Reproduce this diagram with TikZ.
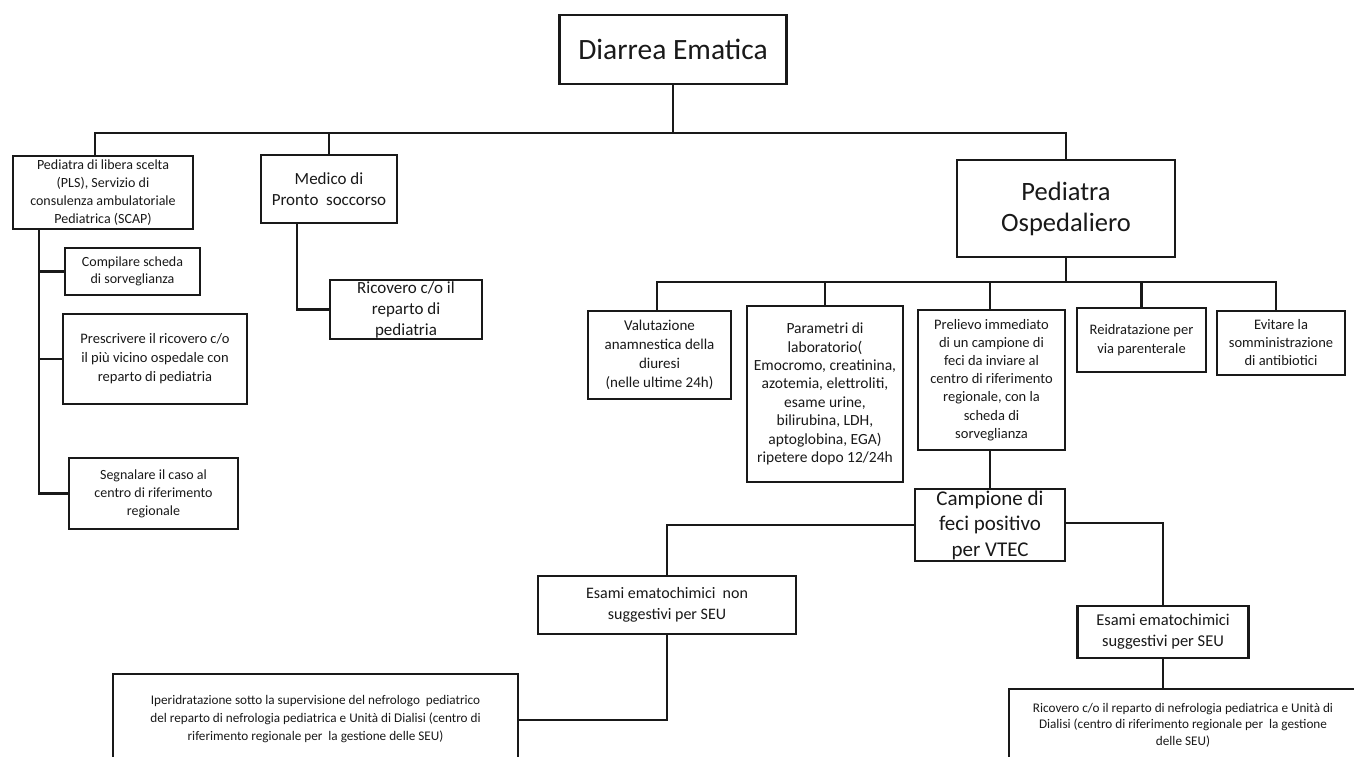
\documentclass[tikz,border=0pt]{standalone}
\usepackage{fontspec}
\setmainfont{Carlito}
\begin{document}
\begin{tikzpicture}[x=1pt,y=-1pt]
\tikzset{
  box/.style={draw=black!90, line width=2.6pt, inner sep=0pt, align=center, fill=white, text=black!90},
  conn/.style={draw=black!90, line width=2.6pt}
}
\useasboundingbox (0,0) rectangle (1354,757);

% level 0
\node[box, minimum width=227pt, minimum height=69pt, font=\fontsize{29.5}{35}\selectfont] (diarrea) at (673,49.5) {Diarrea Ematica};

% level 1
\node[box, minimum width=180pt, minimum height=73pt, font=\fontsize{14}{18}\selectfont] (pls) at (103,192.5)
  {Pediatra di libera scelta\\(PLS), Servizio di\\consulenza ambulatoriale\\Pediatrica (SCAP)};
\node[box, minimum width=136pt, minimum height=68pt, font=\fontsize{17}{21}\selectfont] (medico) at (329,189)
  {Medico di\\Pronto\ \ soccorso};
\node[box, minimum width=218pt, minimum height=97pt, font=\fontsize{26.5}{31}\selectfont] (pedosp) at (1066,208.5)
  {Pediatra\\Ospedaliero};

% PLS children
\node[box, minimum width=135pt, minimum height=47pt, font=\fontsize{14}{17.5}\selectfont] (compilare) at (132.5,271.5)
  {Compilare scheda\\di sorveglianza};
\node[box, minimum width=184pt, minimum height=90pt, font=\fontsize{14.5}{19}\selectfont] (prescrivere) at (155,359)
  {Prescrivere il ricovero c/o\\il più vicino ospedale con\\reparto di pediatria};
\node[box, minimum width=169pt, minimum height=71pt, font=\fontsize{14}{18}\selectfont] (segnalare) at (153.5,493.5)
  {Segnalare il caso al\\centro di riferimento\\regionale};

% Medico child
\node[box, minimum width=152pt, minimum height=59pt, font=\fontsize{17}{21}\selectfont] (ricovero1) at (406,309.5)
  {Ricovero c/o il\\reparto di\\pediatria};

% Pediatra Ospedaliero children
\node[box, minimum width=143pt, minimum height=88pt, font=\fontsize{15}{19}\selectfont] (valutazione) at (659.5,355)
  {Valutazione\\anamnestica della\\diuresi\\(nelle ultime 24h)};
\node[box, minimum width=156pt, minimum height=176pt, font=\fontsize{15.5}{18.4}\selectfont] (parametri) at (825,394)
  {Parametri di\\laboratorio(\\Emocromo, creatinina,\\azotemia, elettroliti,\\esame urine,\\bilirubina, LDH,\\aptoglobina, EGA)\\ripetere dopo 12/24h};
\node[box, minimum width=147pt, minimum height=140pt, font=\fontsize{14.5}{18.2}\selectfont] (prelievo) at (991.5,380)
  {Prelievo immediato\\di un campione di\\feci da inviare al\\centro di riferimento\\regionale, con la\\scheda di\\sorveglianza};
\node[box, minimum width=129pt, minimum height=64pt, font=\fontsize{14.5}{18.3}\selectfont] (reidratazione) at (1141.5,340)
  {Reidratazione per\\via parenterale};
\node[box, minimum width=128pt, minimum height=64pt, font=\fontsize{14.5}{18}\selectfont] (evitare) at (1281,343)
  {Evitare la\\somministrazione\\di antibiotici};

% Campione
\node[box, minimum width=150pt, minimum height=72pt, font=\fontsize{21}{25.5}\selectfont] (campione) at (990,525)
  {Campione di\\feci positivo\\per VTEC};

\node[box, minimum width=258pt, minimum height=58pt, font=\fontsize{16}{21.5}\selectfont] (esaminon) at (667,605)
  {Esami ematochimici\ \ non\\suggestivi per SEU};
\node[box, minimum width=171pt, minimum height=52pt, font=\fontsize{16.5}{21.3}\selectfont] (esamisugg) at (1163,632)
  {Esami ematochimici\\suggestivi per SEU};

\node[box, minimum width=405pt, minimum height=90pt, font=\fontsize{13.2}{18}\selectfont] (iper) at (315.5,719)
  {Iperidratazione sotto la supervisione del nefrologo\ \ pediatrico\\del\ reparto di nefrologia pediatrica e Unità di Dialisi (centro di\\riferimento regionale per\ \ la gestione delle SEU)};
\node[box, minimum width=348pt, minimum height=72pt, font=\fontsize{13.2}{16.5}\selectfont] (ricovero2) at (1183,725)
  {Ricovero c/o il reparto di nefrologia pediatrica e Unità di\\Dialisi (centro di riferimento regionale per\ \ la gestione\\delle SEU)};

% connectors
\coordinate (bus) at (673,133);
\coordinate (spine) at (39,232);
\coordinate (bus2) at (1066,282);

\draw[conn] (diarrea.south) -- (bus);
\draw[conn] ([xshift=-8pt]pls.north) |- (bus) -| (pedosp.north);
\draw[conn] (medico.north) -- (medico.north |- bus);

\draw[conn] (spine |- pls.south) |- (segnalare.west);
\draw[conn] (compilare.west) -- (compilare.west -| spine);
\draw[conn] (prescrivere.west) -- (prescrivere.west -| spine);

\draw[conn] ([xshift=-32pt]medico.south) |- (ricovero1.west);

\draw[conn] (pedosp.south) -- (bus2);
\draw[conn] ([xshift=-2.5pt]valutazione.north) |- (bus2) -| ([xshift=-5pt]evitare.north);
\draw[conn] (parametri.north) -- (parametri.north |- bus2);
\draw[conn] ([xshift=-1.5pt]prelievo.north) -- ([xshift=-1.5pt]prelievo.north |- bus2);
\draw[conn] (reidratazione.north) -- (reidratazione.north |- bus2);

\draw[conn] ([xshift=-1.5pt]prelievo.south) -- ([xshift=-1.5pt]prelievo.south |- campione.north);
\draw[conn] (campione.west) -| (esaminon.north);
\draw[conn] ([yshift=2pt]campione.east) -| (esamisugg.north);
\draw[conn] (esaminon.south) |- ([yshift=-1pt]iper.east);
\draw[conn] (esamisugg.south) -- (esamisugg.south |- ricovero2.north);
\end{tikzpicture}
\end{document}
